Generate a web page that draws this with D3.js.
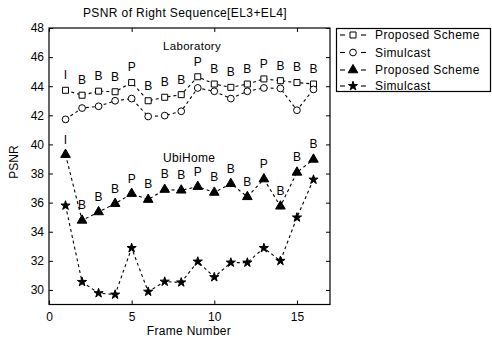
<!DOCTYPE html>
<html><head><meta charset="utf-8">
<script src="https://cdn.jsdelivr.net/npm/d3@7"></script>
<style>
body{margin:0;background:#fff;}
text{font-family:"Liberation Sans",Arial,sans-serif;fill:#000;}
</style></head>
<body><svg id="c" width="492" height="341"></svg>
<script>
const frames = [1,2,3,4,5,6,7,8,9,10,11,12,13,14,15,16];
const labProposed = [43.72,43.38,43.66,43.62,44.25,43.0,43.24,43.42,44.65,44.15,43.92,44.15,44.5,44.38,44.25,44.15];
const labSimulcast = [41.72,42.5,42.62,43.0,43.15,41.92,41.98,42.28,43.88,43.65,43.15,43.65,43.88,43.85,42.35,43.78];
const ubiProposed = [39.3,34.78,35.36,35.93,36.62,36.21,36.9,36.85,37.1,36.7,37.3,36.4,37.62,35.75,38.08,38.97];
const ubiSimulcast = [35.8,30.55,29.78,29.68,32.88,29.88,30.57,30.52,31.95,30.88,31.88,31.88,32.88,32.0,34.98,37.58];
const frameTypes = ["I","B","B","B","P","B","B","B","P","B","B","B","P","B","B","B"];
const xTicks = [0,5,10,15];
const yTicks = [30,32,34,36,38,40,42,44,46,48];
const legendLabels = ["Proposed Scheme","Simulcast","Proposed Scheme","Simulcast"];
const title = "PSNR of Right Sequence[EL3+EL4]";

const svg = d3.select("#c");
const L=49, R=330, T=28, B=304.5;
const x = d3.scaleLinear().domain([0,17]).range([L,R]);
const y = d3.scaleLinear().domain([29,48]).range([B,T]);

svg.append("rect").attr("x",L).attr("y",T).attr("width",R-L).attr("height",B-T)
  .attr("fill","#fff").attr("stroke","#000").attr("stroke-width",1.2);

const fs = "12px";
const xa = svg.append("g").attr("transform",`translate(0,${B})`)
  .call(d3.axisBottom(x).tickValues(xTicks).tickSize(-4).tickPadding(8));
const xt = svg.append("g").attr("transform",`translate(0,${T})`)
  .call(d3.axisTop(x).tickValues(xTicks).tickSize(-4).tickFormat(""));
const ya = svg.append("g").attr("transform",`translate(${L},0)`)
  .call(d3.axisLeft(y).tickValues(yTicks).tickSize(-4).tickPadding(5));
const yr = svg.append("g").attr("transform",`translate(${R},0)`)
  .call(d3.axisRight(y).tickValues(yTicks).tickSize(-4).tickFormat(""));
[xa,xt,ya,yr].forEach(g=>{
  g.select(".domain").remove();
  g.selectAll("line").attr("stroke","#000");
  g.selectAll("text").attr("font-size",fs).attr("font-family","Liberation Sans, Arial, sans-serif").attr("fill","#000");
});

svg.append("text").attr("x",185).attr("y",17).attr("text-anchor","middle").attr("font-size","12px")
  .attr("letter-spacing","0.4px").text(title);
svg.append("text").attr("x",189).attr("y",335).attr("text-anchor","middle").attr("font-size","12px")
  .attr("letter-spacing","0.3px").text("Frame Number");
svg.append("text").attr("transform","translate(18,162) rotate(-90)").attr("text-anchor","middle").attr("font-size","12px").text("PSNR");

const plot = svg.append("g");
const series = [
  {vals:labProposed, sym:d3.symbolSquare, size:36, fill:"#fff"},
  {vals:labSimulcast, sym:d3.symbolCircle, size:36, fill:"#fff"},
  {vals:ubiProposed, sym:d3.symbolTriangle, size:40, fill:"#000"},
  {vals:ubiSimulcast, sym:d3.symbolStar, size:26, fill:"#000"}
];
const line = d3.line().x((d,i)=>x(frames[i])).y(d=>y(d));
series.forEach(s=>{
  plot.append("path").attr("d",line(s.vals)).attr("fill","none").attr("stroke","#000")
    .attr("stroke-width",1.1).attr("stroke-dasharray","3,3");
  plot.selectAll(null).data(s.vals).enter().append("path")
    .attr("transform",(d,i)=>`translate(${x(frames[i])},${y(d)})`)
    .attr("d",d3.symbol().type(s.sym).size(s.size))
    .attr("fill",s.fill).attr("stroke","#000").attr("stroke-width",1);
});

[labProposed, ubiProposed].forEach(vals=>{
  svg.selectAll(null).data(vals).enter().append("text")
    .attr("x",(d,i)=>x(frames[i])).attr("y",d=>y(d+1.05))
    .attr("dy","0.35em").attr("text-anchor","middle").attr("font-size","12px")
    .text((d,i)=>frameTypes[i]);
});

svg.append("text").attr("x",x(6.9)).attr("y",y(46.75)).attr("dy","0.35em").attr("font-size","11.5px")
  .attr("letter-spacing","0.3px").text("Laboratory");
svg.append("text").attr("x",x(6.9)).attr("y",y(39.1)).attr("dy","0.35em").attr("font-size","12px")
  .attr("letter-spacing","0.3px").text("UbiHome");

const lg = svg.append("g");
lg.append("rect").attr("x",336.5).attr("y",28.5).attr("width",154).attr("height",63)
  .attr("fill","#fff").attr("stroke","#000").attr("stroke-width",1.2);
const rows=[35,52.5,70,86];
series.forEach((s,i)=>{
  lg.append("line").attr("x1",340).attr("x2",345).attr("y1",rows[i]).attr("y2",rows[i]).attr("stroke","#000").attr("stroke-width",1.1);
  lg.append("line").attr("x1",361).attr("x2",366).attr("y1",rows[i]).attr("y2",rows[i]).attr("stroke","#000").attr("stroke-width",1.1);
  lg.append("path").attr("transform",`translate(353,${rows[i]})`)
    .attr("d",d3.symbol().type(s.sym).size(s.size)).attr("fill",s.fill).attr("stroke","#000");
  lg.append("text").attr("x",375).attr("y",rows[i]).attr("dy","0.35em").attr("font-size","12px")
    .attr("letter-spacing","0.4px").text(legendLabels[i]);
});
</script></body></html>
